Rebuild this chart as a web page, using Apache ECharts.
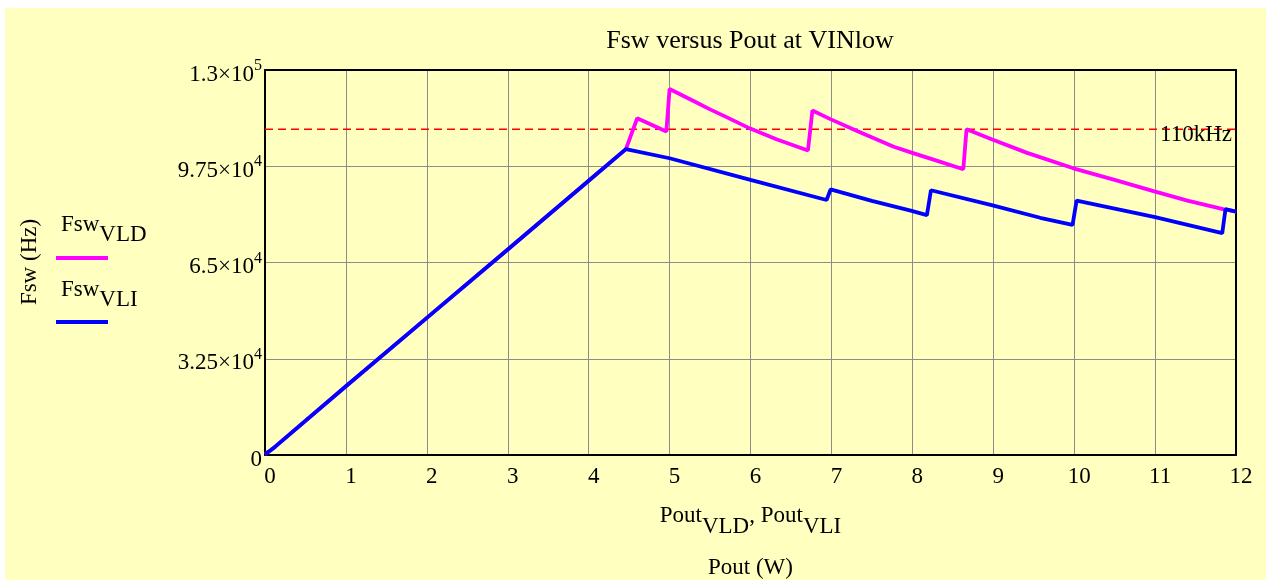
<!DOCTYPE html>
<html>
<head>
<meta charset="utf-8">
<script src="https://cdn.jsdelivr.net/npm/echarts@6/dist/echarts.min.js"></script>
<style>
  html, body { margin: 0; padding: 0; background: #ffffff; }
  #bg { position: absolute; left: 5px; top: 8px; width: 1261px; height: 572px; background: #ffffc0; }
  #chart { position: absolute; left: 0; top: 0; width: 1266px; height: 580px; }
</style>
</head>
<body>
<div id="bg"></div>
<div id="chart"></div>
<script>
// ---- data ----
const poutVLD = [0, 0.05, 0.13, 1, 2, 3, 4, 4.46, 4.60, 4.96, 5.00, 5.29, 5.50, 5.71, 5.99, 6.32, 6.71, 6.765, 6.98, 7.31, 7.77, 7.99, 8.30, 8.63, 8.67, 8.98, 9.41, 9.99, 10.5, 10.98, 11.4, 11.84, 12.0];
const fswVLD  = [300, 1200, 2900, 23200, 46300, 69400, 92600, 103300, 113700, 109200, 123600, 119600, 116700, 114000, 110300, 106600, 102800, 116300, 113500, 109500, 104100, 102100, 99400, 96500, 110000, 106600, 102100, 96800, 92900, 89100, 85900, 83000, 82200];

const poutVLI = [0, 0.05, 0.13, 1, 2, 3, 4, 4.46, 5.0, 6.0, 6.94, 6.99, 7.5, 7.98, 8.18, 8.23, 8.98, 9.58, 9.98, 10.03, 11.0, 11.83, 11.87, 12.0];
const fswVLI  = [300, 1200, 2900, 23200, 46300, 69400, 92600, 103300, 100200, 92900, 86100, 89700, 85800, 82500, 81000, 89400, 84400, 80100, 77700, 85900, 80300, 74900, 83000, 82200];

const limitPout = [0, 12];
const limitFsw = [110000, 110000];
const limitLabel = '110kHz';

const yTickMantissa = ['0', '3.25', '6.5', '9.75', '1.3'];
const yTickExponent = ['', '4', '4', '4', '5'];
const yInterval = 32500;

const FONT = "'Liberation Serif', 'Times New Roman', serif";

function pairs(xs, ys) { return xs.map((x, i) => [x, ys[i]]); }

const chart = echarts.init(document.getElementById('chart'), null, { renderer: 'canvas' });

const option = {
  backgroundColor: 'transparent',
  animation: false,
  title: {
    text: 'Fsw versus Pout at VINlow',
    left: 745,
    top: 23,
    textAlign: 'center',
    textStyle: { fontFamily: FONT, fontSize: 26, fontWeight: 'normal', color: '#000' }
  },
  grid: { left: 265, right: 30, top: 70, bottom: 125, containLabel: false, outerBoundsMode: 'none' },
  xAxis: [{
    type: 'value', min: 0, max: 12, interval: 1,
    axisLine: { show: true, lineStyle: { color: '#000', width: 2 } },
    axisTick: { show: false },
    splitLine: { show: true, lineStyle: { color: '#8c8c8c', width: 1 } },
    axisLabel: { color: '#000', fontFamily: FONT, fontSize: 23, margin: 10, padding: [0, 0, 0, 10] },
    name: '{b|Pout}{s|VLD}{b|, Pout}{s|VLI}\n{n|Pout (W)}',
    nameLocation: 'middle',
    nameGap: 49,
    nameTextStyle: {
      color: '#000', fontFamily: FONT, fontSize: 23, verticalAlign: 'top',
      rich: {
        b: { fontFamily: FONT, fontSize: 23, color: '#000', lineHeight: 34, verticalAlign: 'top' },
        s: { fontFamily: FONT, fontSize: 23, color: '#000', verticalAlign: 'bottom' },
        n: { fontFamily: FONT, fontSize: 23, color: '#000', lineHeight: 41, verticalAlign: 'bottom' }
      }
    }
  }, {
    type: 'value', min: 0, max: 12, position: 'top',
    axisLine: { show: true, onZero: false, lineStyle: { color: '#000', width: 2 } },
    axisTick: { show: false }, axisLabel: { show: false }, splitLine: { show: false }
  }],
  yAxis: [{
    type: 'value', min: 0, max: 130000, interval: yInterval,
    axisLine: { show: true, lineStyle: { color: '#000', width: 2 } },
    axisTick: { show: false },
    splitLine: { show: true, lineStyle: { color: '#8c8c8c', width: 1 } },
    axisLabel: {
      margin: 3,
      padding: [9, 0, 0, 0],
      formatter: function (v) {
        const i = Math.round(v / yInterval);
        if (!yTickExponent[i]) return '{b|' + yTickMantissa[i] + '}';
        return '{b|' + yTickMantissa[i] + '×10}{s|' + yTickExponent[i] + '}';
      },
      rich: {
        b: { fontFamily: FONT, fontSize: 23, color: '#000', lineHeight: 33, verticalAlign: 'middle' },
        s: { fontFamily: FONT, fontSize: 16, color: '#000', verticalAlign: 'top' }
      }
    }
  }, {
    type: 'value', min: 0, max: 130000, position: 'right',
    axisLine: { show: true, onZero: false, lineStyle: { color: '#000', width: 2 } },
    axisTick: { show: false }, axisLabel: { show: false }, splitLine: { show: false }
  }],
  series: [{
    name: '110kHz', type: 'line', data: pairs(limitPout, limitFsw),
    showSymbol: false, symbol: 'none', silent: true,
    lineStyle: { color: '#ff0000', width: 1.6, type: [8, 5] },
    itemStyle: { color: '#ff0000' },
    z: 2,
    markPoint: {
      silent: true,
      symbol: 'circle', symbolSize: 0,
      label: {
        show: true, position: 'left', distance: 4, offset: [0, 6],
        formatter: limitLabel,
        fontFamily: FONT, fontSize: 23, color: '#000'
      },
      data: [{ coord: [limitPout[1], limitFsw[1]] }]
    }
  }, {
    name: 'FswVLD', type: 'line', data: pairs(poutVLD, fswVLD),
    showSymbol: false, symbol: 'none',
    lineStyle: { color: '#ff00ff', width: 3.8 },
    z: 3
  }, {
    name: 'FswVLI', type: 'line', data: pairs(poutVLI, fswVLI),
    showSymbol: false, symbol: 'none',
    lineStyle: { color: '#0000ff', width: 3.8 },
    z: 4
  }],
  graphic: [
    {
      type: 'text', x: 30, y: 262, rotation: Math.PI / 2,
      style: { text: 'Fsw (Hz)', fontFamily: FONT, fontSize: 23, fill: '#000', align: 'center', verticalAlign: 'middle' }
    },
    {
      type: 'text', x: 61, y: 213,
      style: {
        text: '{a|Fsw}{b|VLD}', align: 'left', verticalAlign: 'top',
        rich: {
          a: { fontFamily: FONT, fontSize: 23, fill: '#000', lineHeight: 33, verticalAlign: 'top' },
          b: { fontFamily: FONT, fontSize: 23, fill: '#000', verticalAlign: 'bottom' }
        }
      }
    },
    { type: 'line', shape: { x1: 56, y1: 258, x2: 108, y2: 258 }, style: { stroke: '#ff00ff', lineWidth: 4 } },
    {
      type: 'text', x: 61, y: 278,
      style: {
        text: '{a|Fsw}{b|VLI}', align: 'left', verticalAlign: 'top',
        rich: {
          a: { fontFamily: FONT, fontSize: 23, fill: '#000', lineHeight: 33, verticalAlign: 'top' },
          b: { fontFamily: FONT, fontSize: 23, fill: '#000', verticalAlign: 'bottom' }
        }
      }
    },
    { type: 'line', shape: { x1: 56, y1: 322, x2: 108, y2: 322 }, style: { stroke: '#0000ff', lineWidth: 4 } }
  ]
};
chart.setOption(option);
</script>
</body>
</html>
